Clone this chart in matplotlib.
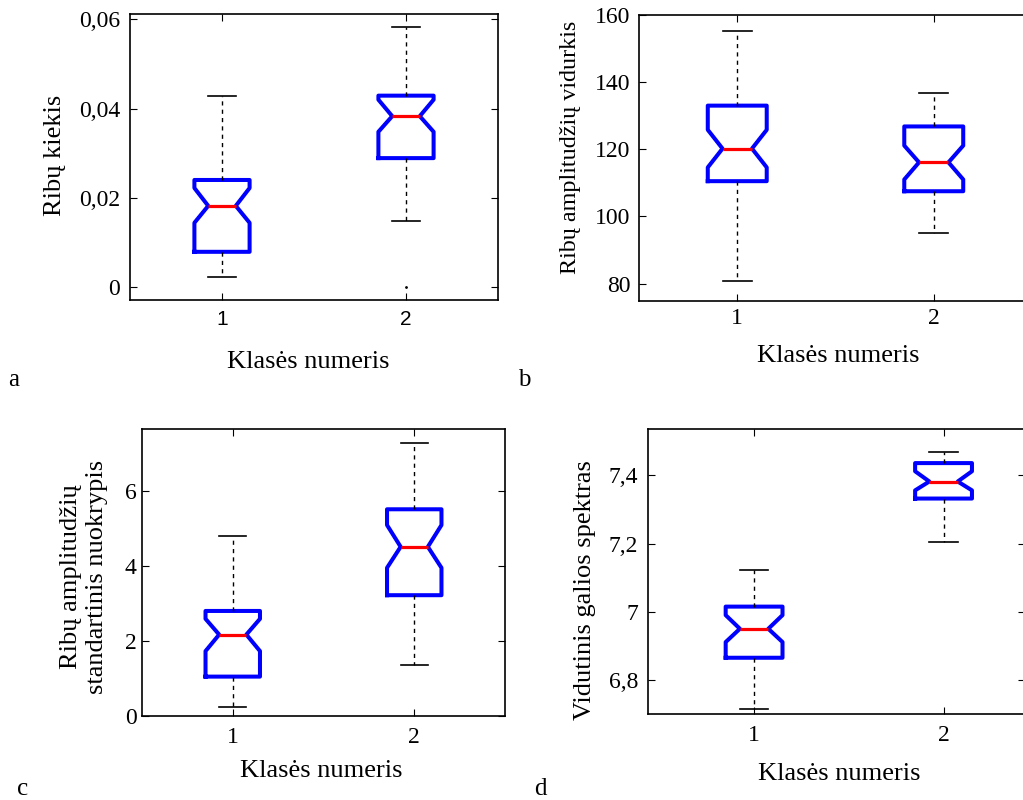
import numpy as np
import matplotlib
matplotlib.use('Agg')
import matplotlib.pyplot as plt

W, H = 1023, 800

#box statistics: q1, notch low, median, notch high, q3, whisker low, whisker high
a_q1 = [0.0079, 0.0289]; a_ci_lo = [0.0144, 0.0348]; a_med = [0.0182, 0.0383]
a_ci_hi = [0.0222, 0.0420]; a_q3 = [0.0240, 0.0429]
a_wlo = [0.0023, 0.0148]; a_whi = [0.0428, 0.0583]
a_fliers = [[], [0.0]]

b_q1 = [110.5, 107.5]; b_ci_lo = [114.6, 111.0]; b_med = [120.2, 116.1]
b_ci_hi = [125.8, 121.1]; b_q3 = [133.0, 126.8]
b_wlo = [80.9, 95.1]; b_whi = [155.2, 136.7]

c_q1 = [1.05, 3.22]; c_ci_lo = [1.73, 3.95]; c_med = [2.17, 4.51]
c_ci_hi = [2.59, 5.09]; c_q3 = [2.80, 5.51]
c_wlo = [0.25, 1.37]; c_whi = [4.80, 7.29]

d_q1 = [6.865, 7.332]; d_ci_lo = [6.911, 7.356]; d_med = [6.950, 7.382]
d_ci_hi = [6.990, 7.412]; d_q3 = [7.015, 7.436]
d_wlo = [6.716, 7.205]; d_whi = [7.121, 7.470]

classes = ['1', '2']
a_yticks = [0, 0.02, 0.04, 0.06]; a_ylabels = ['0', '0,02', '0,04', '0,06']
b_yticks = [80, 100, 120, 140, 160]; b_ylabels = ['80', '100', '120', '140', '160']
c_yticks = [0, 2, 4, 6]; c_ylabels = ['0', '2', '4', '6']
d_yticks = [6.8, 7.0, 7.2, 7.4]; d_ylabels = ['6,8', '7', '7,2', '7,4']

xlab = 'Klasės numeris'
SERIF = 'Liberation Serif'
SANS = 'Liberation Sans'
LFS = 19   # axis label size

fig = plt.figure(figsize=(W/100, H/100), dpi=100)

def px_axes(l, t, r, b):
    return fig.add_axes([l/W, 1-b/H, (r-l)/W, (b-t)/H])

def stats(q1, lo, med, hi, q3, wlo, whi, fl=None):
    out = []
    for i in range(len(q1)):
        out.append(dict(q1=q1[i], cilo=lo[i], med=med[i], cihi=hi[i], q3=q3[i],
                        whislo=wlo[i], whishi=whi[i],
                        fliers=(fl[i] if fl else [])))
    return out

def draw(ax, st, xlim, ylim, yt, ytl, xfont, xpad, ypad):
    ax.bxp(st, positions=[1, 2], widths=0.3, shownotches=True,
           boxprops=dict(color='#0000ff', linewidth=2.9),
           medianprops=dict(color='#ff0000', linewidth=2.3),
           whiskerprops=dict(color='k', linewidth=1.0, linestyle=(0, (3, 3))),
           capprops=dict(color='k', linewidth=1.2),
           flierprops=dict(marker='.', markersize=2, markerfacecolor='k',
                           markeredgecolor='k'))
    ax.set_xlim(*xlim)
    ax.set_ylim(*ylim)
    ax.set_xticks([1, 2])
    ax.set_xticklabels(classes, fontfamily=xfont, fontsize=17 if xfont == SERIF else 15)
    ax.set_yticks(yt)
    ax.set_yticklabels(ytl, fontfamily=SERIF, fontsize=17)
    ax.tick_params(direction='in', length=5, width=0.8, top=True, right=True)
    ax.tick_params(axis='x', pad=xpad)
    ax.tick_params(axis='y', pad=ypad)
    for s in ax.spines.values():
        s.set_linewidth(1.2)

def ylab(ax, text, x, y, fs=LFS):
    ax.set_ylabel(text, fontfamily=SERIF, fontsize=fs, rotation=90,
                  rotation_mode='anchor', ha='center', va='baseline')
    ax.yaxis.set_label_coords(x/W, 1-y/H, transform=fig.transFigure)

def xlabel(ax, x, y):
    ax.set_xlabel(xlab, fontfamily=SERIF, fontsize=LFS, ha='center', va='baseline')
    ax.xaxis.set_label_coords(x/W, 1-y/H, transform=fig.transFigure)

#a
ax = px_axes(130, 14, 498, 300)
draw(ax, stats(a_q1, a_ci_lo, a_med, a_ci_hi, a_q3, a_wlo, a_whi, a_fliers),
     (0.5, 2.5), (-0.0029, 0.0612), a_yticks, a_ylabels, SANS, 7, 7)
ylab(ax, 'Ribų kiekis', 61, 155)
xlabel(ax, 308, 368)

#b
ax = px_axes(639, 15, 1032, 301)
draw(ax, stats(b_q1, b_ci_lo, b_med, b_ci_hi, b_q3, b_wlo, b_whi),
     (0.5, 2.5), (74.8, 160), b_yticks, b_ylabels, SERIF, 5, 6)
ylab(ax, 'Ribų amplitudžių vidurkis', 576, 147, fs=17.4)
xlabel(ax, 838, 362)

#c
ax = px_axes(142, 429, 505, 716)
draw(ax, stats(c_q1, c_ci_lo, c_med, c_ci_hi, c_q3, c_wlo, c_whi),
     (0.5, 2.5), (0, 7.65), c_yticks, c_ylabels, SERIF, 8, 4)
ax.set_ylabel('Ribų amplitudžių\nstandartinis nuokrypis', fontfamily=SERIF,
              fontsize=LFS, rotation=90, rotation_mode='anchor', ha='center',
              va='center', linespacing=1.2)
ax.yaxis.set_label_coords(84/W, 1-577/H, transform=fig.transFigure)
xlabel(ax, 321, 777)

#d
ax = px_axes(648, 429, 1025, 714)
draw(ax, stats(d_q1, d_ci_lo, d_med, d_ci_hi, d_q3, d_wlo, d_whi),
     (0.44, 2.43), (6.70, 7.536), d_yticks, d_ylabels, SERIF, 8, 7)
ylab(ax, 'Vidutinis galios spektras', 591, 590)
xlabel(ax, 839, 780)

#panel letters
for txt, x, y in [('a', 14, 386), ('b', 524, 386), ('c', 23, 795), ('d', 540, 795)]:
    fig.text(x/W, 1-y/H, txt, fontfamily=SERIF, fontsize=18, ha='center', va='baseline')

fig.savefig('out.png', dpi=100)
